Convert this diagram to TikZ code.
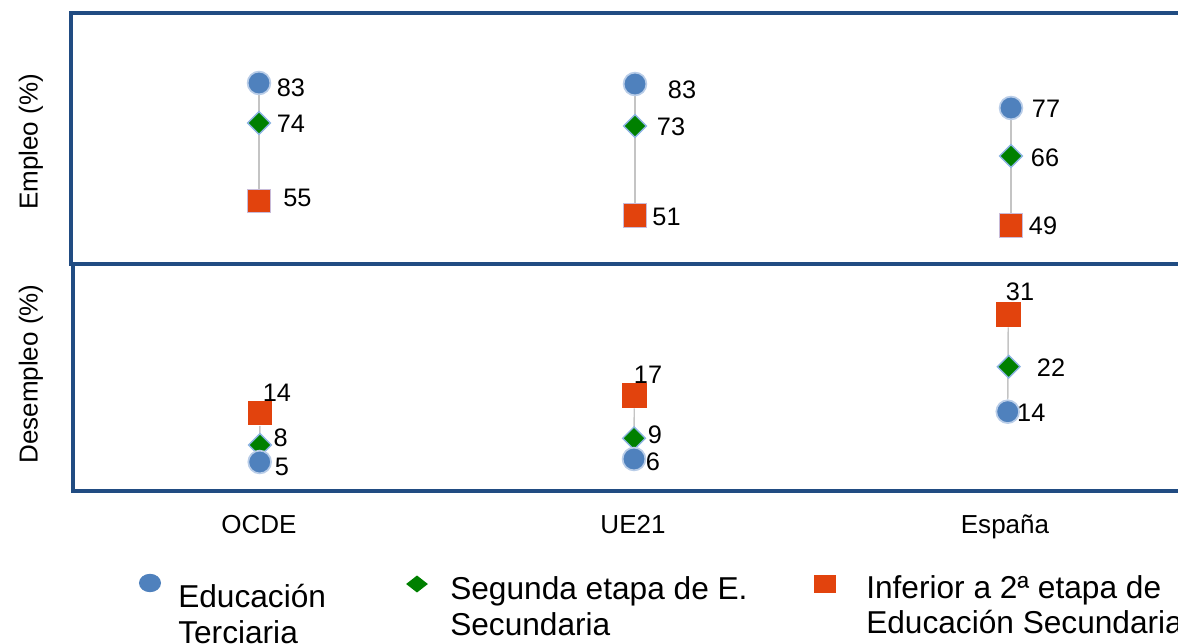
\documentclass[tikz,border=0pt]{standalone}
\usepackage{fontspec}
\setmainfont{Liberation Sans}
\usepackage[]{xcolor}
\usetikzlibrary{shapes.geometric,backgrounds}
\definecolor{frameblue}{RGB}{33,76,130}
\definecolor{terblue}{RGB}{79,129,189}
\definecolor{terline}{RGB}{185,205,232}
\definecolor{seggreen}{RGB}{0,128,0}
\definecolor{segline}{RGB}{141,180,226}
\definecolor{infred}{RGB}{226,67,13}
\definecolor{infline}{RGB}{200,186,216}
\definecolor{conngray}{RGB}{196,196,196}
\tikzset{
  ter/.style={circle, fill=terblue, draw=terline, line width=1.2pt, inner sep=0pt, minimum size=0.57cm},
  seg/.style={diamond, fill=seggreen, draw=segline, line width=1pt, inner sep=0pt, minimum size=0.58cm},
  inf/.style={rectangle, fill=infred, draw=infline, line width=0.8pt, inner sep=0pt, minimum size=0.58cm},
  infb/.style={inf, draw=none, minimum size=0.62cm},
  val/.style={font=\fontsize{18}{22}\selectfont, inner sep=0pt},
  cat/.style={font=\fontsize{18.5}{22}\selectfont, inner sep=0pt},
  conn/.style={draw=conngray, line width=1pt},
  frame/.style={draw=frameblue, line width=2.9pt},
  leg/.style={font=\fontsize{22.5}{27}\selectfont, anchor=base west, inner sep=0pt}
}
\begin{document}
\begin{tikzpicture}[x=0.025cm, y=-0.025cm, text height=1.5ex, text depth=0.25ex]
 	\clip (0,0) rectangle (1178,644);
 	% panels
 	\draw[frame] (71,13) rectangle (1200,264);
 	\draw[frame] (73,264) rectangle (1200,491);
 	% empleo
 	\node[ter] (OcdeEmpTer) at (259,83) {};
 	\node[seg] (OcdeEmpSeg) at (259,123) {};
 	\node[inf] (OcdeEmpInf) at (259,201) {};
 	\node[ter] (UeEmpTer) at (635,84) {};
 	\node[seg] (UeEmpSeg) at (635,126) {};
 	\node[inf] (UeEmpInf) at (635,215.5) {};
 	\node[ter] (EspEmpTer) at (1011,108) {};
 	\node[seg] (EspEmpSeg) at (1011,156) {};
 	\node[inf] (EspEmpInf) at (1011,225.5) {};
 	% desempleo
 	\node[infb] (OcdeDesInf) at (260,413) {};
 	\node[seg] (OcdeDesSeg) at (260,445) {};
 	\node[ter] (OcdeDesTer) at (259.7,462) {};
 	\node[infb] (UeDesInf) at (634.3,395.3) {};
 	\node[seg] (UeDesSeg) at (634,438.3) {};
 	\node[ter] (UeDesTer) at (634,459) {};
 	\node[infb] (EspDesInf) at (1008.3,314.3) {};
 	\node[seg] (EspDesSeg) at (1008.7,366.7) {};
 	\node[ter] (EspDesTer) at (1007.7,411.7) {};
 	\begin{scope}[on background layer]
 	\draw[conn] (OcdeEmpTer) -- (OcdeEmpInf);
 	\draw[conn] (UeEmpTer) -- (UeEmpInf);
 	\draw[conn] (EspEmpTer) -- (EspEmpInf);
 	\draw[conn] (OcdeDesTer) -- (OcdeDesInf);
 	\draw[conn] (UeDesTer) -- (UeDesInf);
 	\draw[conn] (EspDesTer) -- (EspDesInf);
 	\end{scope}
 	% values
 	\node[val] (OcdeEmpTerV) at (291,91.5) {83};
 	\node[val] (OcdeEmpSegV) at (291,128) {74};
 	\node[val] (OcdeEmpInfV) at (297.5,202) {55};
 	\node[val] (UeEmpTerV) at (682,94) {83};
 	\node[val] (UeEmpSegV) at (671,130.5) {73};
 	\node[val] (UeEmpInfV) at (666.5,220.5) {51};
 	\node[val] (EspEmpTerV) at (1046,113) {77};
 	\node[val] (EspEmpSegV) at (1045,161.5) {66};
 	\node[val] (EspEmpInfV) at (1043,230) {49};
 	\node[val] (OcdeDesInfV) at (277,397) {14};
 	\node[val] (OcdeDesSegV) at (280.7,441.5) {8};
 	\node[val] (OcdeDesTerV) at (282,470.5) {5};
 	\node[val] (UeDesInfV) at (648,378.7) {17};
 	\node[val] (UeDesSegV) at (655,438.5) {9};
 	\node[val] (UeDesTerV) at (653,466) {6};
 	\node[val] (EspDesInfV) at (1020,296) {31};
 	\node[val] (EspDesSegV) at (1051,371.5) {22};
 	\node[val] (EspDesTerV) at (1031.3,417) {14};
 	% axes
 	\node[cat, rotate=90] (EmpAxis) at (33,142) {Empleo (\%)};
 	\node[cat, rotate=90] (DesAxis) at (33,374) {Desempleo (\%)};
 	\node[cat] (Ocde) at (259,529) {OCDE};
 	\node[cat] (Ue) at (633,529) {UE21};
 	\node[cat] (Esp) at (1005,529) {España};
 	% legend
 	\node[ellipse, fill=terblue, inner sep=0pt, minimum width=0.55cm, minimum height=0.4cm] (LegTer) at (150,583) {};
 	\node[diamond, fill=seggreen, inner sep=0pt, minimum width=0.55cm, minimum height=0.43cm] (LegSeg) at (417,584) {};
 	\node[rectangle, fill=infred, inner sep=0pt, minimum width=0.53cm, minimum height=0.43cm] (LegInf) at (825,584) {};
 	\node[leg] (LegTerA) at (178,607) {Educación};
 	\node[leg] (LegTerB) at (178,643) {Terciaria};
 	\node[leg] (LegSegA) at (450,599) {Segunda etapa de E.};
 	\node[leg] (LegSegB) at (450,635) {Secundaria};
 	\node[leg] (LegInfA) at (866,598) {Inferior a 2ª etapa de};
 	\node[leg] (LegInfB) at (866,633) {Educación Secundaria};
 	\end{tikzpicture}
\end{document}
